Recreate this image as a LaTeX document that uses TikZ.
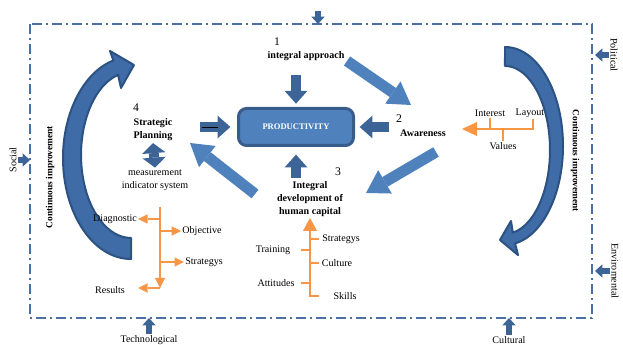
\documentclass[tikz,border=0pt]{standalone}
\usepackage{fontspec}
\setmainfont{Liberation Serif}
\usetikzlibrary{arrows.meta}
\definecolor{frameBlue}{HTML}{4A6FA5}
\definecolor{darkBlue}{HTML}{3C6497}
\definecolor{lightBlue}{HTML}{4F81BD}
\definecolor{prodEdge}{HTML}{385D8A}
\definecolor{bendFill}{HTML}{3F6CA6}
\definecolor{bendEdge}{HTML}{2C5283}
\definecolor{treeOrange}{HTML}{F79646}
\begin{document}
\begin{tikzpicture}[x=0.3mm, y=-0.3mm,
    textStyle/.style={font=\fontsize{8.6}{11}\selectfont, inner sep=1pt, align=center},
    boldStyle/.style={textStyle, font=\fontsize{8.6}{11}\selectfont\bfseries},
    numStyle/.style={font=\fontsize{10}{12}\selectfont, inner sep=1pt},
    frameStyle/.style={draw=frameBlue, line width=0.6mm, dash pattern=on 3mm off 1.2mm on 0.6mm off 1.2mm},
    prodStyle/.style={rectangle, rounded corners=2.4mm, draw=prodEdge, line width=0.9mm, fill=lightBlue, minimum width=34.5mm, minimum height=11.1mm, text=white, font=\fontsize{7.3}{9}\selectfont\bfseries},
    darkArrow/.style={draw=darkBlue, line width=3mm, -{Triangle[width=6.8mm, length=3.8mm, line width=0pt]}},
    lightArrow/.style={draw=lightBlue, line width=3.3mm, -{Triangle[width=8.1mm, length=6.6mm, line width=0pt]}},
    sideArrow/.style={draw=darkBlue, line width=1.6mm, -{Triangle[width=4mm, length=2.2mm, line width=0pt]}},
    bendArrow/.style={fill=bendFill, draw=bendEdge, line width=0.6mm, line join=round},
    orangeMain/.style={draw=treeOrange, line width=0.7mm},
    orangeLine/.style={draw=treeOrange, line width=0.5mm},
    orangeBranch/.style={draw=treeOrange, line width=0.35mm, -{Triangle[width=2.8mm, length=2.8mm, line width=0pt]}}]

    \useasboundingbox (0,0) rectangle (623,345);

    \coordinate (f_nw) at (30,24);
    \coordinate (f_se) at (592,318);
    \draw[frameStyle] (f_nw) rectangle (f_se);

    \fill[bendArrow] (131,259) arc[start angle=90, end angle=255, x radius=68, y radius=101]
        -- (110,51) -- (134,65) -- (121,88) -- (118.1,74.8)
        arc[start angle=255, end angle=90, x radius=50, y radius=83] -- cycle;
    \fill[bendArrow] (505,47) arc[start angle=270, end angle=440, x radius=58, y radius=99]
        -- (518,255) -- (500,240) -- (511,221) -- (512.8,232.7)
        arc[start angle=440, end angle=270, x radius=45, y radius=84] -- cycle;

    \node[textStyle, font=\fontsize{8}{10}\selectfont\bfseries, rotate=90]  (ci_left)  at (50,177)  {Continuous improvement};
    \node[textStyle, font=\fontsize{8}{10}\selectfont\bfseries, rotate=-90] (ci_right) at (575,161) {Continuous improvement};

    \node[textStyle, rotate=90]  (social)    at (13,160)  {Social};
    \node[textStyle, rotate=-90] (political) at (614,55)  {Political};
    \node[textStyle, rotate=-90] (enviro)    at (615,271) {Enviromental};
    \node[textStyle]             (techno)    at (149,340) {Technological};
    \node[textStyle]             (cultural)  at (509,340) {Cultural};
    \coordinate (top_in) at (318,11);

    \draw[sideArrow] (top_in) -- (top_in |- f_nw);
    \draw[sideArrow] (social.south) -- (social.south -| f_nw);
    \draw[sideArrow, shorten >=0.9mm] (political.south) -- (political.south -| f_se);
    \draw[sideArrow, shorten >=0.9mm] (enviro.south) -- (enviro.south -| f_se);
    \draw[sideArrow] (techno.north) -- (techno.north |- f_se);
    \draw[sideArrow] (cultural.north) -- (cultural.north |- f_se);

    \node[prodStyle] (prod) at (296,127) {PRODUCTIVITY};
    \node[numStyle]  (num_1) at (277,42)  {1};
    \node[boldStyle] (approach) at (306,56) {integral approach};
    \node[numStyle]  (num_2) at (399,119) {2};
    \node[boldStyle] (aware) at (423,133) {Awareness};
    \node[numStyle]  (num_3) at (338,172) {3};
    \node[boldStyle] (human) at (310,199) {Integral\\development of\\human capital};
    \node[numStyle]  (num_4) at (136,108) {4};
    \node[boldStyle] (plan) at (153,130) {Strategic\\Planning};
    \node[textStyle] (measure) at (155,180) {measurement\\indicator system};

    \coordinate (in_top)    at (296,75);
    \coordinate (in_left)   at (200,127);
    \coordinate (in_right)  at (389,127);
    \coordinate (in_bottom) at (296,178);
    \draw[darkArrow, shorten >=1mm]   (in_top) -- (prod.north);
    \draw[darkArrow, shorten >=2mm]   (in_left) -- (prod.west);
    \draw[darkArrow, shorten >=1.4mm] (in_right) -- (prod.east);
    \draw[darkArrow, shorten >=2.3mm] (in_bottom) -- (prod.south);
    \draw[line width=0.25mm] ([xshift=0.6mm]in_left) -- ([xshift=5.4mm]in_left);
    \draw[darkArrow, line width=3mm, {Triangle[width=7mm, length=3mm, line width=0pt]}-{Triangle[width=7mm, length=3mm, line width=0pt]}, shorten <=0.2mm, shorten >=0.2mm] (plan.south) -- (measure.north);

    \coordinate (tail_12) at (347,61);
    \coordinate (tip_12)  at (411,105);
    \coordinate (tail_23) at (436,152);
    \coordinate (tip_23)  at (366,193);
    \coordinate (tail_34) at (255,194);
    \coordinate (tip_34)  at (190,143);
    \draw[lightArrow] (tail_12) -- (tip_12);
    \draw[lightArrow] (tail_23) -- (tip_23);
    \draw[lightArrow] (tail_34) -- (tip_34);

    \coordinate (sp_top) at (160,207);
    \coordinate (sp_end) at (160,288);
    \node[textStyle] (diag)    at (115,219) {Diagnostic};
    \node[textStyle] (obj)     at (202,231) {Objective};
    \node[textStyle] (strat_a) at (204,262) {Strategys};
    \node[textStyle] (res)     at (110,290) {Results};
    \draw[orangeMain, -{Triangle[width=3mm, length=3mm, line width=0pt]}] (sp_top) -- (sp_end);
    \draw[orangeBranch] (diag -| sp_top) -- (diag.east);
    \draw[orangeBranch] (obj -| sp_top) -- (obj.west);
    \draw[orangeBranch] (strat_a -| sp_top) -- (strat_a.west);
    \draw[orangeBranch] (sp_end) -- (sp_end -| diag.east);

    \coordinate (hc_end) at (310,296);
    \node[textStyle] (strat_b)   at (341,239) {Strategys};
    \node[textStyle] (training)  at (273,250) {Training};
    \node[textStyle] (culture)   at (337,263) {Culture};
    \node[textStyle] (attitudes) at (276,283) {Attitudes};
    \node[textStyle] (skills)    at (345,296) {Skills};
    \draw[orangeMain, -{Triangle[width=4.2mm, length=3.9mm, line width=0pt]}] ([xshift=2.7mm]hc_end) -- (hc_end) -- (human.south);
    \draw[orangeLine] (strat_b -| hc_end) -- ++(9,0);
    \draw[orangeLine] (training -| hc_end) -- ++(-9,0);
    \draw[orangeLine] (culture -| hc_end) -- ++(9,0);
    \draw[orangeLine] (attitudes -| hc_end) -- ++(-9,0);

    \coordinate (aw_end) at (533,129);
    \coordinate (aw_tip) at (462,129);
    \node[textStyle] (interest) at (490,113) {Interest};
    \node[textStyle] (layout)   at (530,113) {Layout};
    \node[textStyle] (values)   at (503,146) {Values};
    \draw[orangeMain, -{Triangle[width=4.2mm, length=4.5mm, line width=0pt]}] (aw_end |- layout.south) -- (aw_end) -- (aw_tip);
    \draw[orangeLine] (interest.south) -- (interest.south |- aw_end);
    \draw[orangeLine] (values.north) -- (values.north |- aw_end);
\end{tikzpicture}
\end{document}
